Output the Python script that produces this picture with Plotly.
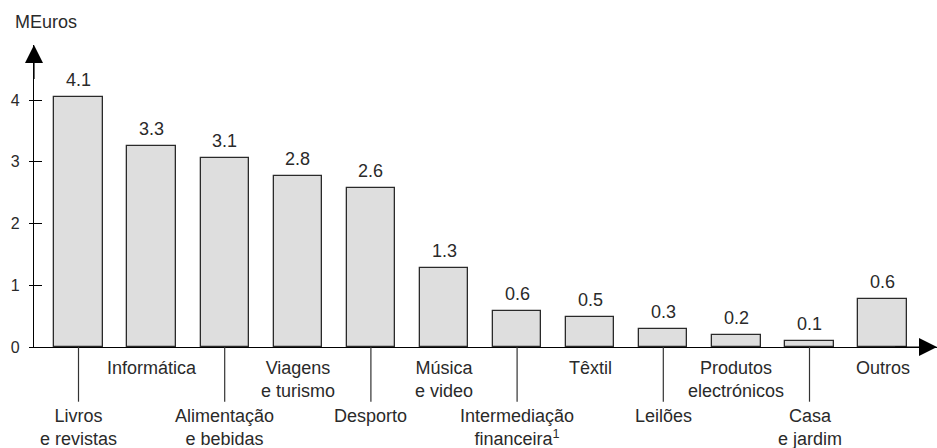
import plotly.graph_objects as go

# ---- data ----
categories = [
    "Livros<br>e revistas", "Informática", "Alimentação<br>e bebidas",
    "Viagens<br>e turismo", "Desporto", "Música<br>e video",
    "Intermediação<br>financeira<sup>1</sup>", "Têxtil", "Leilões",
    "Produtos<br>electrónicos", "Casa<br>e jardim", "Outros",
]
bar_heights = [4.05, 3.26, 3.06, 2.77, 2.57, 1.28, 0.59, 0.49, 0.29, 0.19, 0.09, 0.78]
value_labels = ["4.1", "3.3", "3.1", "2.8", "2.6", "1.3", "0.6", "0.5", "0.3", "0.2", "0.1", "0.6"]
y_ticks = [0, 1, 2, 3, 4]
y_title = "MEuros"

# ---- style ----
FONT = "Liberation Sans"
TXT = "#2a2a2a"
W, H = 937, 448
L, R, T, B = 34, 0, 45, 101
PX_PER_CAT = 73.1
PX_PER_UNIT = 61.75
FIRST_CENTER = 78.5

plot_w = W - L - R
plot_h = H - T - B
x0 = -(FIRST_CENTER - L) / PX_PER_CAT
x1 = x0 + plot_w / PX_PER_CAT
y1 = plot_h / PX_PER_UNIT

idx = list(range(len(categories)))

fig = go.Figure()
fig.add_trace(go.Bar(
    x=idx, y=bar_heights, width=0.66,
    marker=dict(color="#dedede", line=dict(color="#2a2a2a", width=1.3)),
    hoverinfo="skip", showlegend=False,
))
# invisible trace to carry the second (inside-tick) y axis
fig.add_trace(go.Scatter(x=idx, y=bar_heights, yaxis="y2", mode="markers",
                         marker=dict(opacity=0), hoverinfo="skip", showlegend=False))

annotations = []
shapes = []
# value labels above bars
for i, (v, lab) in enumerate(zip(bar_heights, value_labels)):
    annotations.append(dict(x=i, y=v, xref="x", yref="y", text=lab, showarrow=False,
                            yanchor="bottom", yshift=5,
                            font=dict(family=FONT, size=18, color=TXT)))
# category labels, alternating rows, with leader lines for the lower row
lead_len = 54.7 / plot_h
for i, c in enumerate(categories):
    lower = (i % 2 == 0)
    annotations.append(dict(x=i, y=0, xref="x", yref="y", text=c, showarrow=False,
                            yanchor="top", yshift=(-57 if lower else -9),
                            font=dict(family=FONT, size=18, color=TXT)))
    if lower:
        shapes.append(dict(type="line", xref="x", yref="paper", x0=i, x1=i, y0=0, y1=-lead_len,
                           line=dict(color="#333333", width=1.2)))

# axis arrows
arrow_common = dict(xref="x", yref="y", axref="x", ayref="y", text=" ",
                    font=dict(size=2, color="rgba(0,0,0,0)"),
                    showarrow=True, arrowhead=2, arrowsize=3.0, arrowwidth=1.2,
                    arrowcolor="black", standoff=0, startstandoff=0)
annotations.append(dict(x=x0, y=y1, ax=x0, ay=y1 - 0.6, **arrow_common))
annotations.append(dict(x=x1, y=0, ax=x1 - 0.6, ay=0, **arrow_common))
# axis title
annotations.append(dict(x=(46 - L) / plot_w, y=(H - B - 22) / plot_h, xref="paper", yref="paper",
                        text=y_title, showarrow=False, xanchor="center", yanchor="middle",
                        font=dict(family=FONT, size=18, color=TXT)))

fig.update_layout(
    width=W, height=H,
    margin=dict(l=L, r=R, t=T, b=B, pad=0),
    paper_bgcolor="white", plot_bgcolor="white",
    bargap=0,
    xaxis=dict(range=[x0, x1], showgrid=False, zeroline=False, showticklabels=False,
               ticks="", showline=True, linecolor="black", linewidth=1.2, fixedrange=True),
    yaxis=dict(range=[0, y1], tickvals=y_ticks, ticktext=[str(t) for t in y_ticks],
               showgrid=False, zeroline=False, ticks="outside", ticklen=4, tickwidth=1.2,
               tickcolor="black", showline=True, linecolor="black", linewidth=1.2,
               ticklabelstandoff=6,
               tickfont=dict(family=FONT, size=16, color=TXT), fixedrange=True),
    yaxis2=dict(range=[0, y1], overlaying="y", side="left", anchor="x", tickvals=y_ticks,
                showticklabels=False, showgrid=False, zeroline=False, ticks="inside",
                ticklen=8, tickwidth=1.2, tickcolor="black", showline=False, fixedrange=True),
    annotations=annotations,
    shapes=shapes,
)

fig.write_html("out.html")
